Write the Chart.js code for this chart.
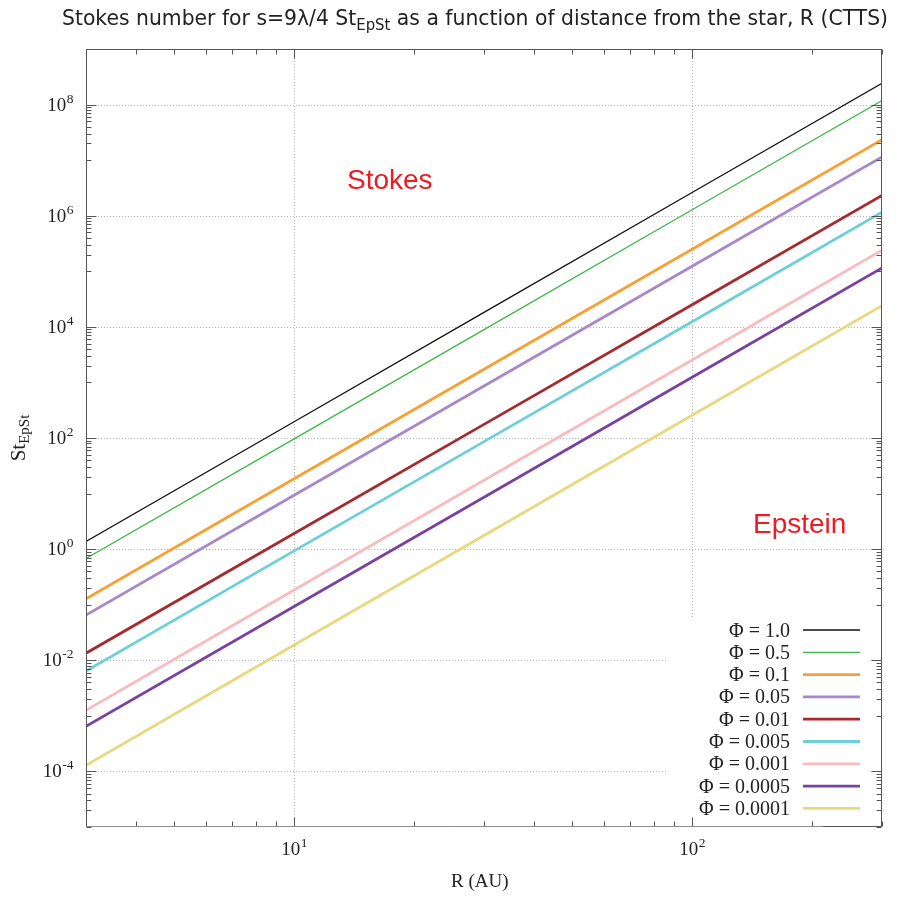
<!DOCTYPE html>
<html>
<head>
<meta charset="utf-8">
<script src="https://cdn.jsdelivr.net/npm/chart.js@4/dist/chart.umd.min.js"></script>
<style>
  html, body { margin: 0; padding: 0; background: #ffffff; }
  #stokes-chart { display: block; }
</style>
</head>
<body>
<canvas id="stokes-chart" width="904" height="897"></canvas>
<script>
const radiusAU = [3, 10, 30, 100, 300];

// Stokes number St_EpSt for each porosity Phi
const stPhi1 = [1.37, 196, 1.82e4, 2.61e6, 2.42e8];
const stPhi05 = [0.68, 96.6, 8.9e3, 1.28e6, 1.18e8];
const stPhi01 = [0.128, 18.5, 1.73e3, 2.5e5, 2.33e7];
const stPhi005 = [0.065, 9.3, 861, 1.23e5, 1.14e7];
const stPhi001 = [0.0134, 1.91, 176, 2.5e4, 2.31e6];
const stPhi0005 = [0.0064, 0.93, 86, 1.24e4, 1.16e6];
const stPhi0001 = [0.00126, 0.184, 17.4, 2.54e3, 2.4e5];
const stPhi00005 = [0.00065, 0.093, 8.6, 1.24e3, 1.15e5];
const stPhi00001 = [0.000129, 0.0188, 1.76, 256, 2.4e4];

const phiLabels = ["1.0", "0.5", "0.1", "0.05", "0.01", "0.005", "0.001", "0.0005", "0.0001"];
const seriesValues = [stPhi1, stPhi05, stPhi01, stPhi005, stPhi001, stPhi0005, stPhi0001, stPhi00005, stPhi00001];

// tick labels: 10^exponent
const xTickValues = [10, 100];
const xTickExponents = ["1", "2"];
const yTickValues = [1e-4, 1e-2, 1, 1e2, 1e4, 1e6, 1e8];
const yTickExponents = ["-4", "-2", "0", "2", "4", "6", "8"];

const seriesColors = ["#111111", "#3db848", "#f7a033", "#a888c8", "#a52b30", "#6dcfd8", "#f8bcc0", "#7a42a0", "#e8d87e"];
const seriesWidths = [1.3, 1.3, 2.8, 2.8, 2.8, 2.8, 2.8, 2.8, 2.8];

const SERIF = '"Liberation Serif", "Times New Roman", serif';
const SANS = '"DejaVu Sans", sans-serif';
const INK = "#222222";
const AXIS = "#555555";

function drawPower(ctx, exponent, x, baseline, align) {
  ctx.font = `19px ${SERIF}`;
  const baseWidth = ctx.measureText("10").width;
  ctx.font = `13.5px ${SERIF}`;
  const supWidth = ctx.measureText(exponent).width;
  const total = baseWidth + supWidth;
  const left = align === "right" ? x - total : x - total / 2;
  ctx.textAlign = "left";
  ctx.textBaseline = "alphabetic";
  ctx.fillStyle = INK;
  ctx.font = `19px ${SERIF}`;
  ctx.fillText("10", left, baseline);
  ctx.font = `13.5px ${SERIF}`;
  ctx.fillText(exponent, left + baseWidth + 0.5, baseline - 8);
}

function drawTitle(ctx) {
  const parts = [
    { text: "Stokes number for s=9λ/4 St", font: `20.5px ${SANS}`, dy: 0 },
    { text: "EpSt", font: `15px ${SANS}`, dy: 4.5 },
    { text: " as a function of distance from the star, R (CTTS)", font: `20.5px ${SANS}`, dy: 0 },
  ];
  let total = 0;
  parts.forEach((part) => {
    ctx.font = part.font;
    part.width = ctx.measureText(part.text).width;
    total += part.width;
  });
  const left = 62;
  const right = 888;
  ctx.save();
  ctx.translate(left, 25);
  ctx.scale((right - left) / total, 1);
  ctx.fillStyle = INK;
  ctx.textAlign = "left";
  ctx.textBaseline = "alphabetic";
  let x = 0;
  parts.forEach((part) => {
    ctx.font = part.font;
    ctx.fillText(part.text, x, part.dy);
    x += part.width;
  });
  ctx.restore();
}

function drawAxisTitles(ctx, area) {
  ctx.fillStyle = INK;
  ctx.textBaseline = "alphabetic";
  ctx.textAlign = "left";
  ctx.font = `19px ${SERIF}`;
  ctx.fillText("R (AU)", 451, 887);

  ctx.save();
  ctx.translate(25, (area.top + area.bottom) / 2);
  ctx.rotate(-Math.PI / 2);
  ctx.font = `21px ${SERIF}`;
  const stWidth = ctx.measureText("St").width;
  ctx.font = `15px ${SERIF}`;
  const subWidth = ctx.measureText("EpSt").width;
  const start = -(stWidth + subWidth) / 2;
  ctx.font = `21px ${SERIF}`;
  ctx.fillText("St", start, 0);
  ctx.font = `15px ${SERIF}`;
  ctx.fillText("EpSt", start + stWidth, 4);
  ctx.restore();
}

function drawLegend(ctx) {
  ctx.fillStyle = "#ffffff";
  ctx.fillRect(667, 618, 215, 208);
  ctx.font = `20px ${SERIF}`;
  ctx.textAlign = "right";
  ctx.textBaseline = "alphabetic";
  phiLabels.forEach((label, i) => {
    const y = 630 + i * 22.3;
    ctx.fillStyle = INK;
    ctx.fillText(`Φ = ${label}`, 790, y + 6.5);
    ctx.beginPath();
    ctx.moveTo(803, y);
    ctx.lineTo(860, y);
    ctx.strokeStyle = seriesColors[i];
    ctx.lineWidth = seriesWidths[i];
    ctx.stroke();
  });
}

const gnuplotFrame = {
  id: "gnuplotFrame",
  beforeDatasetsDraw(chart) {
    const { ctx, chartArea: area, scales } = chart;
    ctx.save();
    ctx.strokeStyle = "#b4b4b4";
    ctx.lineWidth = 1;
    ctx.setLineDash([1, 2]);
    xTickValues.forEach((value) => {
      const x = Math.round(scales.x.getPixelForValue(value)) + 0.5;
      ctx.beginPath();
      ctx.moveTo(x, area.top);
      ctx.lineTo(x, area.bottom);
      ctx.stroke();
    });
    yTickValues.forEach((value) => {
      const y = Math.round(scales.y.getPixelForValue(value)) + 0.5;
      ctx.beginPath();
      ctx.moveTo(area.left, y);
      ctx.lineTo(area.right, y);
      ctx.stroke();
    });
    ctx.restore();
  },
  afterDatasetsDraw(chart) {
    const { ctx, chartArea: area, scales } = chart;
    ctx.save();
    drawLegend(ctx);

    const L = area.left + 0.5;
    const R = area.right - 0.5;
    const T = area.top + 0.5;
    const B = area.bottom - 0.5;

    // ticks, mirrored on both sides like gnuplot
    ctx.strokeStyle = AXIS;
    ctx.lineWidth = 1;
    const xTick = (value, len) => {
      const x = Math.round(scales.x.getPixelForValue(value)) + 0.5;
      ctx.beginPath();
      ctx.moveTo(x, B);
      ctx.lineTo(x, B - len);
      ctx.moveTo(x, T);
      ctx.lineTo(x, T + len);
      ctx.stroke();
    };
    const yTick = (value, len) => {
      const y = Math.round(scales.y.getPixelForValue(value)) + 0.5;
      ctx.beginPath();
      ctx.moveTo(L, y);
      ctx.lineTo(L + len, y);
      ctx.moveTo(R, y);
      ctx.lineTo(R - len, y);
      ctx.stroke();
    };
    for (let n = 0; n <= 2; n++) {
      for (let k = 2; k <= 9; k++) {
        const v = k * Math.pow(10, n);
        if (v >= 3 && v <= 300) xTick(v, 5);
      }
    }
    xTickValues.forEach((v) => xTick(v, 9));
    for (let n = -5; n <= 9; n += 2) {
      for (let k = 1; k <= 9; k++) {
        const v = k * Math.pow(10, n);
        if (v >= 1e-5 && v <= 1e9) yTick(v, 5);
      }
    }
    yTickValues.forEach((v) => yTick(v, 10));

    // border
    ctx.beginPath();
    ctx.moveTo(L, B);
    ctx.lineTo(L, T);
    ctx.lineTo(R, T);
    ctx.lineTo(R, B);
    ctx.lineTo(823, B);
    ctx.stroke();
    ctx.strokeStyle = "#8c8c8c";
    ctx.beginPath();
    ctx.moveTo(823, B);
    ctx.lineTo(L, B);
    ctx.stroke();

    xTickValues.forEach((v, i) => drawPower(ctx, xTickExponents[i], scales.x.getPixelForValue(v), 855, "center"));
    yTickValues.forEach((v, i) => drawPower(ctx, yTickExponents[i], 73, scales.y.getPixelForValue(v) + 6, "right"));

    drawTitle(ctx);
    drawAxisTitles(ctx, area);

    ctx.fillStyle = "#ec1c24";
    ctx.font = `28px "Liberation Sans", Arial, sans-serif`;
    ctx.textAlign = "left";
    ctx.textBaseline = "alphabetic";
    ctx.fillText("Stokes", 347, 189);
    ctx.fillText("Epstein", 753, 533);
    ctx.restore();
  },
};

const canvas = document.getElementById("stokes-chart");

new Chart(canvas, {
  type: "line",
  data: {
    datasets: seriesValues.map((values, i) => ({
      label: `Φ = ${phiLabels[i]}`,
      data: values.map((st, j) => ({ x: radiusAU[j], y: st })),
      borderColor: seriesColors[i],
      borderWidth: seriesWidths[i],
      pointRadius: 0,
      tension: 0,
      fill: false,
    })),
  },
  options: {
    responsive: false,
    animation: false,
    events: [],
    layout: { padding: { left: 86, top: 49, right: 22, bottom: 70 } },
    plugins: {
      legend: { display: false },
      title: { display: false },
      tooltip: { enabled: false },
    },
    scales: {
      x: {
        type: "logarithmic",
        min: 3,
        max: 300,
        ticks: { display: false },
        grid: { display: false },
        border: { display: false },
        afterFit(axis) { axis.height = 0; },
      },
      y: {
        type: "logarithmic",
        min: 1e-5,
        max: 1e9,
        ticks: { display: false },
        grid: { display: false },
        border: { display: false },
        afterFit(axis) { axis.width = 0; },
      },
    },
  },
  plugins: [gnuplotFrame],
});
</script>
</body>
</html>
